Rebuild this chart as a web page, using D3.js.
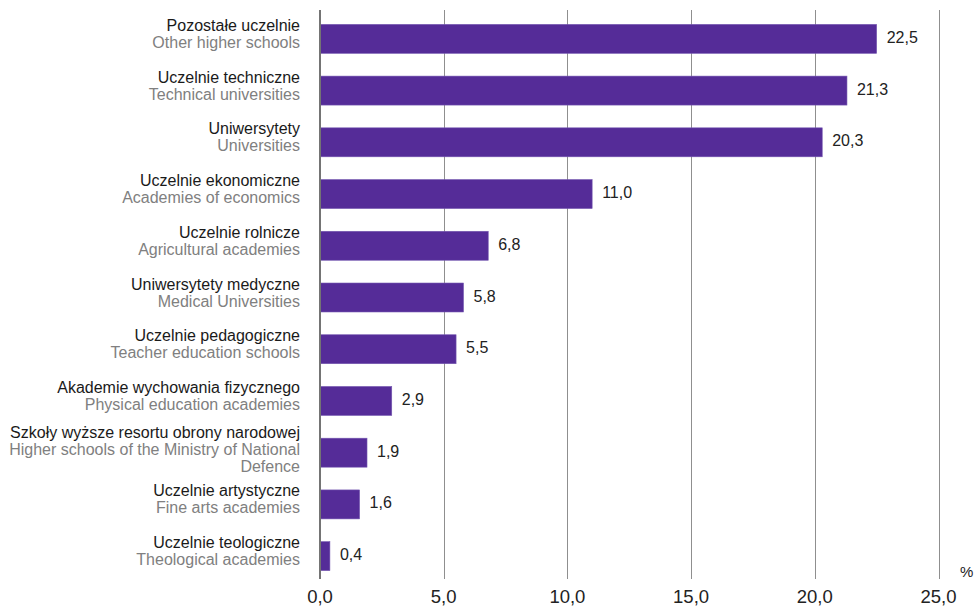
<!DOCTYPE html>
<html>
<head>
<meta charset="utf-8">
<script src="https://cdn.jsdelivr.net/npm/d3@7/dist/d3.min.js"></script>
<style>
  html, body { margin: 0; padding: 0; background: #ffffff; }
  svg { display: block; font-family: "Liberation Sans", Arial, sans-serif; }
</style>
</head>
<body>
<svg id="chart" width="974" height="606"></svg>
<script>
// Share of students by type of higher education institution (%)
const namesPl = [
  "Pozostałe uczelnie",
  "Uczelnie techniczne",
  "Uniwersytety",
  "Uczelnie ekonomiczne",
  "Uczelnie rolnicze",
  "Uniwersytety medyczne",
  "Uczelnie pedagogiczne",
  "Akademie wychowania fizycznego",
  "Szkoły wyższe resortu obrony narodowej",
  "Uczelnie artystyczne",
  "Uczelnie teologiczne"
];
const namesEn = [
  ["Other higher schools"],
  ["Technical universities"],
  ["Universities"],
  ["Academies of economics"],
  ["Agricultural academies"],
  ["Medical Universities"],
  ["Teacher education schools"],
  ["Physical education academies"],
  ["Higher schools of the Ministry of National", "Defence"],
  ["Fine arts academies"],
  ["Theological academies"]
];
const shares = [22.5, 21.3, 20.3, 11.0, 6.8, 5.8, 5.5, 2.9, 1.9, 1.6, 0.4];
const xTicks = [0, 5, 10, 15, 20, 25];
const unitLabel = "%";

const fmt = v => v.toFixed(1).replace(".", ",");

const svg = d3.select("#chart");

const x = d3.scaleLinear().domain([0, 25]).range([320, 938.5]);
const y = d3.scaleBand()
  .domain(d3.range(shares.length))
  .range([13, 582])
  .paddingInner(0.44)
  .paddingOuter(0.22);

const gridTop = 10, gridBottom = 579;

// vertical grid lines
svg.append("g")
  .selectAll("line")
  .data(xTicks.filter(t => t !== 0))
  .join("line")
  .attr("x1", d => Math.round(x(d)) + 0.5)
  .attr("x2", d => Math.round(x(d)) + 0.5)
  .attr("y1", gridTop)
  .attr("y2", gridBottom)
  .attr("stroke", "#8f8f8f")
  .attr("stroke-width", 1);

// bars
svg.append("g")
  .selectAll("rect")
  .data(shares)
  .join("rect")
  .attr("x", x(0))
  .attr("y", (d, i) => y(i))
  .attr("width", d => x(d) - x(0))
  .attr("height", y.bandwidth())
  .attr("fill", "#552c98")
  .attr("stroke", "#7457b0")
  .attr("stroke-width", 0.6);

// zero axis line
svg.append("line")
  .attr("x1", x(0)).attr("x2", x(0))
  .attr("y1", gridTop).attr("y2", gridBottom)
  .attr("stroke", "#747474")
  .attr("stroke-width", 2);

// value labels
svg.append("g")
  .selectAll("text")
  .data(shares)
  .join("text")
  .attr("x", d => x(d) + 10)
  .attr("y", (d, i) => y(i) + y.bandwidth() / 2 + 4)
  .attr("font-size", 16)
  .attr("fill", "#222222")
  .text(d => fmt(d));

// category labels (Polish name + English translation)
const lineH = 17;
const cat = svg.append("g").attr("text-anchor", "end").attr("font-size", 16);
namesPl.forEach((pl, i) => {
  const lines = [{ t: pl, c: "#1a1a1a" }].concat(namesEn[i].map(t => ({ t, c: "#808080" })));
  const n = lines.length;
  const cy = y(i) + y.bandwidth() / 2;
  const off = 0.5 + (n - 2) * 2;
  lines.forEach((ln, j) => {
    cat.append("text")
      .attr("x", 300)
      .attr("y", cy + (j - (n - 1) / 2) * lineH + off)
      .attr("fill", ln.c)
      .text(ln.t);
  });
});

// x axis tick labels
svg.append("g")
  .attr("text-anchor", "middle")
  .attr("font-size", 18.5)
  .selectAll("text")
  .data(xTicks)
  .join("text")
  .attr("x", d => x(d))
  .attr("y", 603)
  .attr("fill", "#222222")
  .text(d => fmt(d));

// unit label
svg.append("text")
  .attr("x", 960)
  .attr("y", 577)
  .attr("font-size", 15)
  .attr("fill", "#222222")
  .text(unitLabel);
</script>
</body>
</html>
